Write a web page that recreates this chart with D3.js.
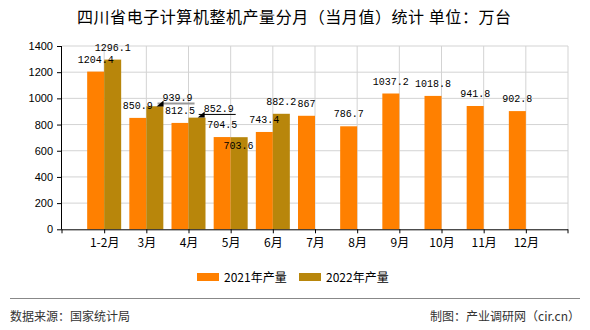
<!DOCTYPE html>
<html><head><meta charset="utf-8">
<script src="https://cdn.jsdelivr.net/npm/d3@7"></script>
<style>body{margin:0;background:#fff}svg{display:block}</style>
</head><body>
<script>
const categories = ["1-2月","3月","4月","5月","6月","7月","8月","9月","10月","11月","12月"];
const series2021 = [1204.4,850.9,812.5,704.5,743.4,867,786.7,1037.2,1018.8,941.8,902.8];
const series2022 = [1296.1,939.9,852.9,703.6,882.2,null,null,null,null,null,null];
const seriesNames = ["2021年产量","2022年产量"];
const yTicks = [0,200,400,600,800,1000,1200,1400];
const title = "四川省电子计算机整机产量分月（当月值）统计  单位：万台";
const sourceText = "数据来源：国家统计局";
const makerText = "制图：产业调研网（cir.cn）";

(function(){
const W=590,H=330;
const colors=["#FF8000","#B8860B"];
const pL=62,pR=568,pT=46,pB=229.3;
const svg=d3.select("body").append("svg").attr("width",W).attr("height",H);

svg.append("text").attr("x",294).attr("y",23).attr("text-anchor","middle")
  .attr("font-family","'Noto Sans CJK SC',sans-serif").attr("font-size",16).attr("fill","#000")
  .attr("textLength",434).text(title);

const x=d3.scalePoint().domain(categories).range([pL,pR]).padding(1);
const y=d3.scaleLinear().domain([0,1400]).range([pB,pT]);
const bw=17;

const g=svg.append("g");
g.selectAll(".hg").data(yTicks.slice(1)).enter().append("line")
  .attr("x1",pL).attr("x2",pR).attr("y1",d=>y(d)).attr("y2",d=>y(d))
  .attr("stroke","#d3d3d3").attr("stroke-width",1);
g.selectAll(".vg").data(categories.map(c=>x(c)).concat([pR])).enter().append("line")
  .attr("x1",d=>d).attr("x2",d=>d).attr("y1",pT).attr("y2",pB)
  .attr("stroke","#d3d3d3").attr("stroke-width",1);

const data=[series2021,series2022];
data.forEach((s,si)=>{
  svg.append("g").selectAll("rect").data(s.map((v,i)=>({v,i})).filter(d=>d.v!=null)).enter().append("rect")
    .attr("x",d=>x(categories[d.i])-bw+si*bw).attr("width",bw)
    .attr("y",d=>y(d.v)).attr("height",d=>pB-y(d.v)).attr("fill",colors[si]);
});

const yAxis=svg.append("g").attr("transform",`translate(${pL},0)`)
  .call(d3.axisLeft(y).tickValues(yTicks).tickSize(5).tickPadding(4).tickFormat(d3.format("d")));
yAxis.select(".domain").attr("d",`M-0.5,${pT}V${pB}`).attr("stroke","#000");
yAxis.selectAll("text").attr("font-family","'Liberation Sans',Arial,sans-serif").attr("font-size",11).attr("fill","#000");
const xAxis=svg.append("g").attr("transform",`translate(0,${pB})`)
  .call(d3.axisBottom(x).tickSize(4).tickPadding(5));
xAxis.select(".domain").attr("d",`M${pL},0.5H${pR}`).attr("stroke","#000");
xAxis.selectAll("text").attr("font-family","'Noto Sans CJK SC',sans-serif").attr("font-size",12).attr("fill","#000");
[pL,pR].forEach(px=>xAxis.append("line").attr("x1",px).attr("x2",px).attr("y1",0).attr("y2",4).attr("stroke","#000"));

const adjust={"1-1":{dx:22.7,dy:3.4,line:"#999",lw:2},"1-2":{dx:21.7,dy:3,line:"#000",lw:1},"1-3":{dx:-0.7,dy:21}};
const lab=svg.append("g").attr("font-family","'Liberation Mono',monospace").attr("font-size",10).attr("fill","#000");
data.forEach((s,si)=>{
  s.forEach((v,i)=>{
    if(v==null) return;
    const cx=x(categories[i])-bw/2+si*bw;
    const by=y(v)-9;
    const a=adjust[si+"-"+i]||{dx:0,dy:0};
    const tx=cx+a.dx, ty=by+a.dy;
    if(a.line){
      const tw=String(v).length*6;
      const ly=ty+2.8;
      lab.append("line").attr("x1",tx-tw/2-5).attr("x2",tx+tw/2+2).attr("y1",ly).attr("y2",ly)
        .attr("stroke",a.line).attr("stroke-width",a.lw);
      const px=tx-tw/2-5;
      lab.append("path").attr("d",`M${px-1},${ly+3}L${px+6},${ly-3}L${px+6},${ly+3}Z`).attr("fill","#000");
    }
    lab.append("text").attr("x",tx).attr("y",ty).attr("text-anchor","middle").text(v);
  });
});

const leg=svg.append("g");
const legX=[197,299];
seriesNames.forEach((n,i)=>{
  leg.append("rect").attr("x",legX[i]).attr("y",273).attr("width",22).attr("height",8).attr("fill",colors[i]);
  leg.append("text").attr("x",legX[i]+27).attr("y",281.5).attr("font-family","'Noto Sans CJK SC',sans-serif")
    .attr("font-size",12).attr("fill","#000").text(n);
});

svg.append("line").attr("x1",10).attr("x2",580).attr("y1",298.5).attr("y2",298.5).attr("stroke","#888").attr("stroke-width",1);
svg.append("text").attr("x",10).attr("y",321).attr("font-family","'Noto Sans CJK SC',sans-serif").attr("font-size",12).attr("fill","#333").text(sourceText);
svg.append("text").attr("x",580).attr("y",321).attr("text-anchor","end").attr("font-family","'Noto Sans CJK SC',sans-serif").attr("font-size",12).attr("fill","#333").text(makerText);
})();
</script>
</body></html>
